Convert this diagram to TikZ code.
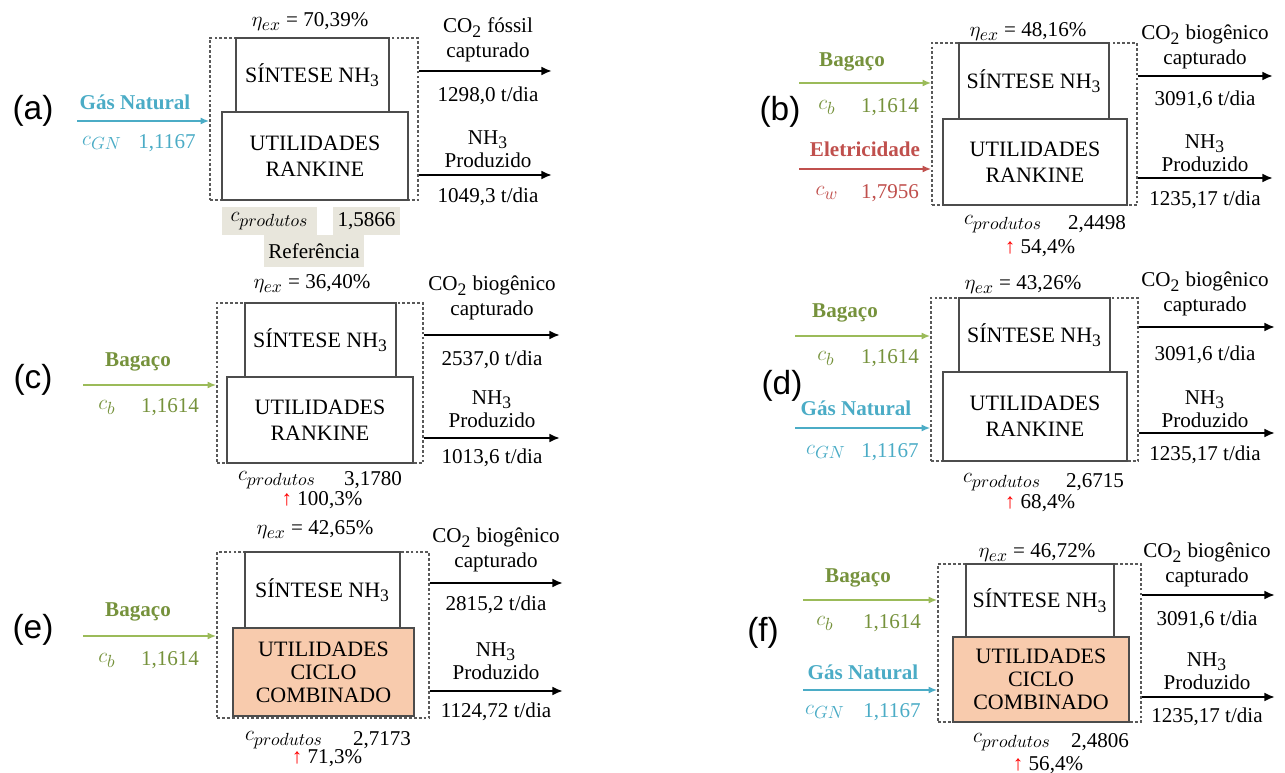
\documentclass[tikz,border=0pt]{standalone}
\usepackage{fontspec}
\setmainfont{Liberation Serif}
\newfontfamily\letrafont{Liberation Sans}
\DeclareMathSizes{12}{12.5}{10}{8}
\DeclareMathSizes{12.5}{12.5}{10}{8}
\definecolor{AzulGN}{HTML}{4BACC6}
\definecolor{VerdeBagaco}{HTML}{76923C}
\definecolor{VerdeSeta}{HTML}{9BBB59}
\definecolor{VermelhoEl}{HTML}{C0504D}
\definecolor{LaranjaCC}{HTML}{F8CBAD}
\definecolor{BegeRef}{HTML}{E8E6DC}
\usetikzlibrary{arrows.meta}
\usetikzlibrary{positioning}

\begin{document}
\begin{tikzpicture}
	[x=0.02cm, y=-0.02cm,
	every node/.style = {inner sep=0pt, font=\fontsize{12}{14}\selectfont},
	tam/.style 2 args = {minimum width=#1*0.02cm, minimum height=#2*0.02cm},
	volume/.style = {draw=black!65, line width=0.75pt, dash pattern=on 1.6pt off 1.2pt},
	bloco/.style = {draw=black!70, line width=0.8pt, fill=white, align=center,
		font=\fontsize{12.5}{15}\selectfont},
	ciclo/.style = {bloco, fill=LaranjaCC, font=\fontsize{12.5}{13}\selectfont},
	ref/.style = {fill=BegeRef},
	letra/.style = {font=\letrafont\fontsize{19}{22}\selectfont},
	saida/.style = {draw=black, line width=1.3pt, -{Latex[length=6pt,width=5pt]}},
	entrada/.style = {line width=1pt, -{Latex[length=5pt,width=4pt]}},
	gn/.style = {entrada, draw=AzulGN},
	bag/.style = {entrada, draw=VerdeSeta},
	elet/.style = {entrada, draw=VermelhoEl},
	titgn/.style = {text=AzulGN, font=\bfseries\fontsize{12}{14}\selectfont},
	titbag/.style = {text=VerdeBagaco, font=\bfseries\fontsize{12}{14}\selectfont},
	titel/.style = {text=VermelhoEl, font=\bfseries\fontsize{12}{14}\selectfont}]
	\useasboundingbox (0,0) rectangle (1285,773);

	% (a) caso de referencia: gas natural
	\node[letra] (a-let) at (33,111) {(a)};
	\node[volume, tam={208}{162}] (a-vc) at (314,119) {};
	\node[bloco, tam={153}{74}] (a-sin) at (312.5,75) {SÍNTESE NH\textsubscript{3}};
	\node[bloco, tam={186}{88}] (a-uti) at (315,156) {UTILIDADES\\RANKINE};
	\node (a-eta) at (310,22) {$\eta_{ex}$ = 70,39\%};
	\node[titgn] (a-gn) at (135,102) {Gás Natural};
	\coordinate (a-gn0) at (77,121);
	\draw[gn] (a-gn0) -- (a-gn0 -| a-vc.west);
	\node[text=AzulGN] (a-cgn) at (102,143) {$c_{GN}$};
	\node[text=AzulGN] (a-vgn) at (167,143) {1,1167};
	\coordinate (a-s1) at (552,71);
	\coordinate (a-s2) at (552,175);
	\draw[saida] (a-s1 -| a-vc.east) -- (a-s1);
	\draw[saida] (a-s2 -| a-vc.east) -- (a-s2);
	\node[align=center] (a-co2) at (488,40) {CO\textsubscript{2} fóssil\\capturado};
	\node (a-tco2) at (488,96) {1298,0 t/dia};
	\node[align=center] (a-nh3) at (488,149) {NH\textsubscript{3}\\[-1pt]Produzido};
	\node (a-tnh3) at (488,197) {1049,3 t/dia};
	\node[ref, tam={95}{28}] (a-cp) at (269.5,221) {$c_{produtos}$};
	\node[ref, tam={67}{28}] (a-vcp) at (366.5,221) {1,5866};
	\node[ref, tam={100}{32}] (a-ref) at (314,251) {Referência};

	% (b) bagaco + eletricidade
	\node[letra] (b-let) at (780,112) {(b)};
	\node[volume, tam={205}{162}] (b-vc) at (1034.5,124) {};
	\node[bloco, tam={150}{76}] (b-sin) at (1034,81) {SÍNTESE NH\textsubscript{3}};
	\node[bloco, tam={184}{86}] (b-uti) at (1035,162) {UTILIDADES\\RANKINE};
	\node (b-eta) at (1028,32) {$\eta_{ex}$ = 48,16\%};
	\node[titbag] (b-bag) at (852,62) {Bagaço};
	\coordinate (b-bag0) at (799,83);
	\draw[bag] (b-bag0) -- (b-bag0 -| b-vc.west);
	\node[text=VerdeBagaco] (b-cb) at (827,107) {$c_b$};
	\node[text=VerdeBagaco] (b-vb) at (890,107) {1,1614};
	\node[titel] (b-el) at (865,149) {Eletricidade};
	\coordinate (b-el0) at (799,169);
	\draw[elet] (b-el0) -- (b-el0 -| b-vc.west);
	\node[text=VermelhoEl] (b-cw) at (827,193) {$c_w$};
	\node[text=VermelhoEl] (b-vw) at (890,193) {1,7956};
	\coordinate (b-s1) at (1273,76);
	\coordinate (b-s2) at (1273,178);
	\draw[saida] (b-s1 -| b-vc.east) -- (b-s1);
	\draw[saida] (b-s2 -| b-vc.east) -- (b-s2);
	\node[align=center] (b-co2) at (1205,47) {CO\textsubscript{2} biogênico\\capturado};
	\node (b-tco2) at (1205,100) {3091,6 t/dia};
	\node[align=center] (b-nh3) at (1205,153) {NH\textsubscript{3}\\[-1pt]Produzido};
	\node (b-tnh3) at (1205,200) {1235,17 t/dia};
	\node (b-cp) at (1003,224) {$c_{produtos}$};
	\node (b-vcp) at (1097,224) {2,4498};
	\node (b-pct) at (1040,248) {{\color{red}↑} 54,4\%};

	% (c) bagaco
	\node[letra] (c-let) at (33,380) {(c)};
	\node[volume, tam={206}{160}] (c-vc) at (320,383) {};
	\node[bloco, tam={151}{74}] (c-sin) at (320.5,340) {SÍNTESE NH\textsubscript{3}};
	\node[bloco, tam={186}{86}] (c-uti) at (320,420) {UTILIDADES\\RANKINE};
	\node (c-eta) at (312,284) {$\eta_{ex}$ = 36,40\%};
	\node[titbag] (c-bag) at (138,362) {Bagaço};
	\coordinate (c-bag0) at (83,385);
	\draw[bag] (c-bag0) -- (c-bag0 -| c-vc.west);
	\node[text=VerdeBagaco] (c-cb) at (107,407) {$c_b$};
	\node[text=VerdeBagaco] (c-vb) at (170,407) {1,1614};
	\coordinate (c-s1) at (560,335);
	\coordinate (c-s2) at (560,438);
	\draw[saida] (c-s1 -| c-vc.east) -- (c-s1);
	\draw[saida] (c-s2 -| c-vc.east) -- (c-s2);
	\node[align=center] (c-co2) at (492,298) {CO\textsubscript{2} biogênico\\capturado};
	\node (c-tco2) at (492,360) {2537,0 t/dia};
	\node[align=center] (c-nh3) at (492,409) {NH\textsubscript{3}\\[-1pt]Produzido};
	\node (c-tnh3) at (492,458) {1013,6 t/dia};
	\node (c-cp) at (277,480) {$c_{produtos}$};
	\node (c-vcp) at (373,480) {3,1780};
	\node (c-pct) at (322,500) {{\color{red}↑} 100,3\%};

	% (d) bagaco + gas natural
	\node[letra] (d-let) at (782,386) {(d)};
	\node[volume, tam={207}{163}] (d-vc) at (1034.5,379.5) {};
	\node[bloco, tam={151}{74}] (d-sin) at (1034.5,335) {SÍNTESE NH\textsubscript{3}};
	\node[bloco, tam={184}{89}] (d-uti) at (1035,416.5) {UTILIDADES\\RANKINE};
	\node (d-eta) at (1023,285) {$\eta_{ex}$ = 43,26\%};
	\node[titbag] (d-bag) at (845,313) {Bagaço};
	\coordinate (d-bag0) at (795,336);
	\draw[bag] (d-bag0) -- (d-bag0 -| d-vc.west);
	\node[text=VerdeBagaco] (d-cb) at (826,358) {$c_b$};
	\node[text=VerdeBagaco] (d-vb) at (890,358) {1,1614};
	\node[titgn] (d-gn) at (856,408) {Gás Natural};
	\coordinate (d-gn0) at (795,428);
	\draw[gn] (d-gn0) -- (d-gn0 -| d-vc.west);
	\node[text=AzulGN] (d-cgn) at (826,452) {$c_{GN}$};
	\node[text=AzulGN] (d-vgn) at (890,452) {1,1167};
	\coordinate (d-s1) at (1275,327);
	\coordinate (d-s2) at (1275,433);
	\draw[saida] (d-s1 -| d-vc.east) -- (d-s1);
	\draw[saida] (d-s2 -| d-vc.east) -- (d-s2);
	\node[align=center] (d-co2) at (1205,294) {CO\textsubscript{2} biogênico\\capturado};
	\node (d-tco2) at (1205,355) {3091,6 t/dia};
	\node[align=center] (d-nh3) at (1205,409) {NH\textsubscript{3}\\[-1pt]Produzido};
	\node (d-tnh3) at (1205,455) {1235,17 t/dia};
	\node (d-cp) at (1002,482) {$c_{produtos}$};
	\node (d-vcp) at (1095,482) {2,6715};
	\node (d-pct) at (1040,503) {{\color{red}↑} 68,4\%};

	% (e) bagaco, ciclo combinado
	\node[letra] (e-let) at (33,630) {(e)};
	\node[volume, tam={212}{166}] (e-vc) at (323,635) {};
	\node[bloco, tam={155}{76}] (e-sin) at (322.5,590) {SÍNTESE NH\textsubscript{3}};
	\node[ciclo, tam={181}{88}] (e-uti) at (323.5,672) {UTILIDADES\\CICLO\\COMBINADO};
	\node (e-eta) at (315,530) {$\eta_{ex}$ = 42,65\%};
	\node[titbag] (e-bag) at (138,612) {Bagaço};
	\coordinate (e-bag0) at (83,636);
	\draw[bag] (e-bag0) -- (e-bag0 -| e-vc.west);
	\node[text=VerdeBagaco] (e-cb) at (107,660) {$c_b$};
	\node[text=VerdeBagaco] (e-vb) at (170,660) {1,1614};
	\coordinate (e-s1) at (563,583);
	\coordinate (e-s2) at (563,691);
	\draw[saida] (e-s1 -| e-vc.east) -- (e-s1);
	\draw[saida] (e-s2 -| e-vc.east) -- (e-s2);
	\node[align=center] (e-co2) at (496,550) {CO\textsubscript{2} biogênico\\capturado};
	\node (e-tco2) at (496,605) {2815,2 t/dia};
	\node[align=center] (e-nh3) at (496,661) {NH\textsubscript{3}\\[-1pt]Produzido};
	\node (e-tnh3) at (496,712) {1124,72 t/dia};
	\node (e-cp) at (284,740) {$c_{produtos}$};
	\node (e-vcp) at (382,740) {2,7173};
	\node (e-pct) at (327,758) {{\color{red}↑} 71,3\%};

	% (f) bagaco + gas natural, ciclo combinado
	\node[letra] (f-let) at (763,633) {(f)};
	\node[volume, tam={203}{158}] (f-vc) at (1039.5,643) {};
	\node[bloco, tam={148}{73}] (f-sin) at (1040,600.5) {SÍNTESE NH\textsubscript{3}};
	\node[ciclo, tam={176}{85}] (f-uti) at (1041,679.5) {UTILIDADES\\CICLO\\COMBINADO};
	\node (f-eta) at (1037,553) {$\eta_{ex}$ = 46,72\%};
	\node[titbag] (f-bag) at (858,578) {Bagaço};
	\coordinate (f-bag0) at (803,600);
	\draw[bag] (f-bag0) -- (f-bag0 -| f-vc.west);
	\node[text=VerdeBagaco] (f-cb) at (825,623) {$c_b$};
	\node[text=VerdeBagaco] (f-vb) at (892,623) {1,1614};
	\node[titgn] (f-gn) at (863,672) {Gás Natural};
	\coordinate (f-gn0) at (803,690);
	\draw[gn] (f-gn0) -- (f-gn0 -| f-vc.west);
	\node[text=AzulGN] (f-cgn) at (825,712) {$c_{GN}$};
	\node[text=AzulGN] (f-vgn) at (892,712) {1,1167};
	\coordinate (f-s1) at (1275,595);
	\coordinate (f-s2) at (1275,697);
	\draw[saida] (f-s1 -| f-vc.east) -- (f-s1);
	\draw[saida] (f-s2 -| f-vc.east) -- (f-s2);
	\node[align=center] (f-co2) at (1207,565) {CO\textsubscript{2} biogênico\\capturado};
	\node (f-tco2) at (1207,620) {3091,6 t/dia};
	\node[align=center] (f-nh3) at (1207,671) {NH\textsubscript{3}\\[-1pt]Produzido};
	\node (f-tnh3) at (1207,717) {1235,17 t/dia};
	\node (f-cp) at (1012,742) {$c_{produtos}$};
	\node (f-vcp) at (1100,742) {2,4806};
	\node (f-pct) at (1048,765) {{\color{red}↑} 56,4\%};
\end{tikzpicture}
\end{document}
